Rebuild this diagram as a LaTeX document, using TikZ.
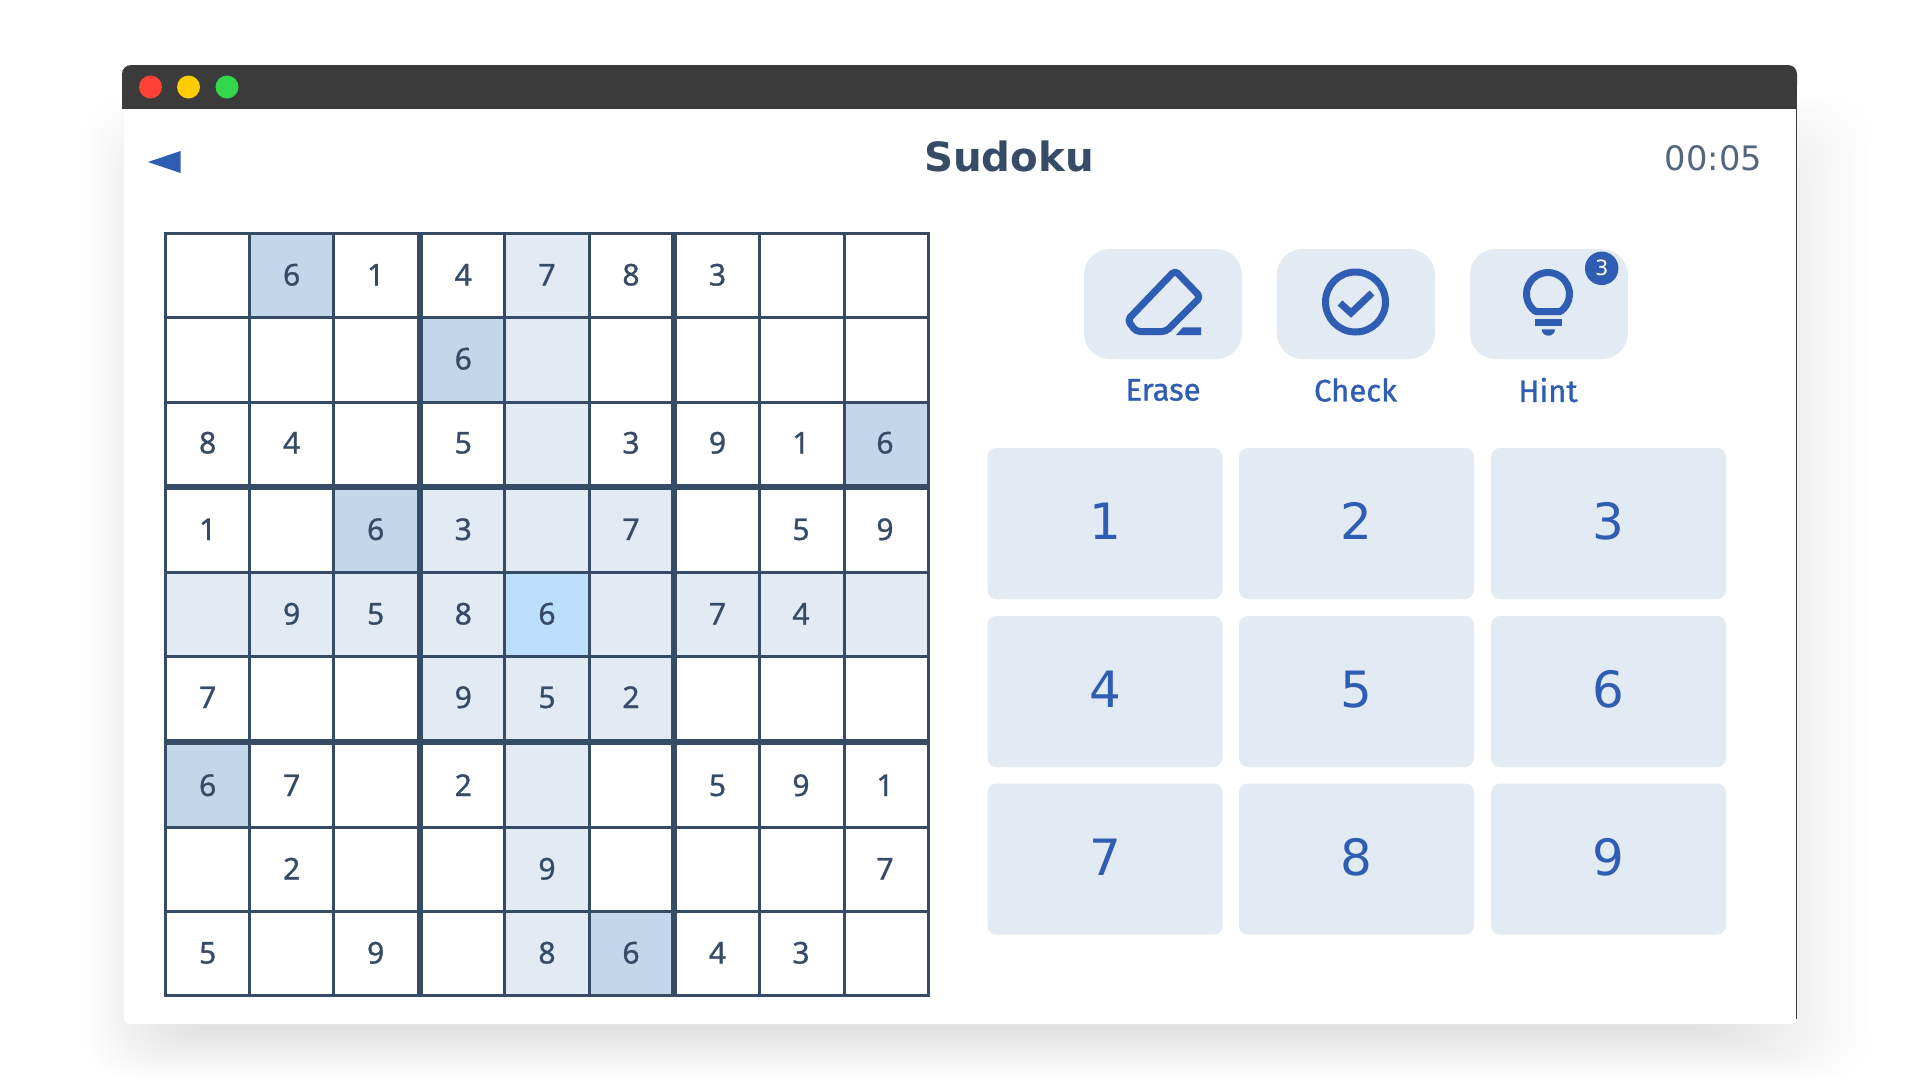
\documentclass[tikz,border=0pt]{standalone}
\usepackage{fontspec}
\usepackage{xcolor}
\usetikzlibrary{positioning,calc}
\newfontfamily\titlefont{DejaVu Sans}
\newfontfamily\digitfont[FakeBold=1]{Noto Sans}
\newfontfamily\labelfont[FakeBold=1]{Fira Sans}
\definecolor{BarDark}{HTML}{3B3B3B}
\definecolor{GridInk}{HTML}{364B66}
\definecolor{AppBlue}{HTML}{2F5DB3}
\definecolor{PaleCell}{HTML}{E2EAF3}
\definecolor{SameCell}{HTML}{C2D7EA}
\definecolor{PickCell}{HTML}{BBDEFB}
\definecolor{CloseRed}{HTML}{FF4136}
\definecolor{MinYellow}{HTML}{FFCC00}
\definecolor{ZoomGreen}{HTML}{32D74B}
\begin{document}
\begin{tikzpicture}[
  x=1pt, y=-1pt,
  thinrule/.style={line width=3pt, GridInk, line cap=rect},
  thickrule/.style={line width=6pt, GridInk},
  digit/.style={inner sep=0pt, text height=22pt, text depth=0pt, text=GridInk, font=\digitfont\fontsize{30}{30}\selectfont},
  padkey/.style={rectangle, rounded corners=9pt, fill=PaleCell, minimum width=235pt, minimum height=151pt, inner sep=0pt,
                 text height=36.5pt, text depth=4pt, text=AppBlue, font=\titlefont\fontsize{50}{50}\selectfont},
  toolbtn/.style={rectangle, rounded corners=26pt, fill=PaleCell, minimum width=158pt, minimum height=110pt, inner sep=0pt},
  toollabel/.style={inner sep=0pt, text=AppBlue, font=\labelfont\fontsize{31}{31}\selectfont},
  icon/.style={line width=7pt, AppBlue, line join=round},
  light/.style={circle, minimum size=23pt, inner sep=0pt}
]
\useasboundingbox (0,0) rectangle (1920,1080);
\fill[white] (0,0) rectangle (1920,1080);
% soft shadow
\foreach \s in {0,...,29} {
  \pgfmathsetmacro{\t}{\s/29}
  \fill[black, opacity=0.0035, rounded corners=45pt] (85+85*\t,95+105*\t) rectangle (1870-145*\t,1078-48*\t);
}
% window
\fill[white, rounded corners=6pt] (124,100) rectangle (1797,1024);
\draw[line width=1.5pt, BarDark] (1796.5,109) -- (1796.5,1019);
\fill[BarDark, rounded corners=9pt] (122,65) rectangle (1797,95);
\fill[BarDark] (122,80) rectangle (1797,109);
\node[light, fill=CloseRed] (closedot) at (150.5,87) {};
\node[light, fill=MinYellow] (mindot) at (188.5,87) {};
\node[light, fill=ZoomGreen] (zoomdot) at (227,87) {};
% header
\fill[AppBlue] (148,162) -- (180.5,151) -- (180.5,173) -- cycle;
\node[inner sep=0pt, text=GridInk, font=\titlefont\bfseries\fontsize{40.3}{40}\selectfont] (title) at (1009,156.2) {Sudoku};
\node[inner sep=0pt, text=GridInk!85!white, font=\titlefont\fontsize{33.7}{33}\selectfont] (timer) at (1713.5,158) {00:05};
% grid coordinates
\foreach \xp [count=\i] in {165.5,249.7,333.5,419.5,504.5,589,673.5,759,844,928}
  \coordinate (x\i) at (\xp,0);
\foreach \yp [count=\j] in {233,317,402,486.5,572,656,741.5,827,911,995}
  \coordinate (y\j) at (0,\yp);
\foreach \xp [count=\i] in {207.7,291.7,375.7,463.3,547,631,717.5,801,885}
  \coordinate (cx\i) at (\xp,0);
\foreach \yp [count=\j] in {274.5,358.5,442.5,529,613.5,697,785,868.5,952.5}
  \coordinate (cy\j) at (0,\yp);
% shaded cells
\foreach \r/\c in {1/5,2/5,3/5,4/4,4/5,4/6,5/1,5/2,5/3,5/4,5/6,5/7,5/8,5/9,6/4,6/5,6/6,7/5,8/5,9/5} {
  \pgfmathtruncatemacro{\rr}{\r+1}\pgfmathtruncatemacro{\cc}{\c+1}
  \fill[PaleCell] (x\c |- y\r) rectangle (x\cc |- y\rr);
}
\foreach \r/\c in {1/2,2/4,3/9,4/3,7/1,9/6} {
  \pgfmathtruncatemacro{\rr}{\r+1}\pgfmathtruncatemacro{\cc}{\c+1}
  \fill[SameCell] (x\c |- y\r) rectangle (x\cc |- y\rr);
}
\fill[PickCell] (x5 |- y5) rectangle (x6 |- y6);
% grid rules
\foreach \i in {1,2,3,5,6,8,9,10}
  \draw[thinrule] (x\i |- y1) -- (x\i |- y10);
\foreach \j in {1,2,3,5,6,8,9,10}
  \draw[thinrule] (x1 |- y\j) -- (x10 |- y\j);
\foreach \i in {4,7}
  \draw[thickrule] (x\i |- y1) -- (x\i |- y10);
\foreach \j in {4,7}
  \draw[thickrule] (x1 |- y\j) -- (x10 |- y\j);
% givens
\foreach \r/\c/\v in {1/2/6,1/3/1,1/4/4,1/5/7,1/6/8,1/7/3,
                      2/4/6,
                      3/1/8,3/2/4,3/4/5,3/6/3,3/7/9,3/8/1,3/9/6,
                      4/1/1,4/3/6,4/4/3,4/6/7,4/8/5,4/9/9,
                      5/2/9,5/3/5,5/4/8,5/5/6,5/7/7,5/8/4,
                      6/1/7,6/4/9,6/5/5,6/6/2,
                      7/1/6,7/2/7,7/4/2,7/7/5,7/8/9,7/9/1,
                      8/2/2,8/5/9,8/9/7,
                      9/1/5,9/3/9,9/5/8,9/6/6,9/7/4,9/8/3} {
  \node[digit] (d\r\c) at (cx\c |- cy\r) {\v};
}
% tool buttons
\node[toolbtn] (erase) at (1163,304) {};
\node[toolbtn, right=34.5pt of erase] (check) {};
\node[toolbtn, right=34.5pt of check] (hint) {};
\node[toollabel] (eraselbl) at (1163,390) {Erase};
\node[toollabel] (checklbl) at (1355.5,390) {Check};
\node[toollabel] (hintlbl) at (1548,390) {Hint};
% eraser icon
\draw[icon, rounded corners=4pt] (1175,270.5) -- (1200.5,297) -- (1166,331.5) -- (1136,331.5) -- (1127.5,320) -- cycle;
\fill[AppBlue] (1183,327.3) -- (1201,327.3) -- (1201,335) -- (1176,335) -- cycle;
% check icon
\draw[icon] (1355.5,302) circle[radius=30];
\draw[icon, line join=miter] (1340,303) -- (1351,313) -- (1372,293);
% bulb icon
\draw[icon] (1535.5,311.5) arc[start angle=125.5, end angle=414.5, radius=21.5] -- cycle;
\fill[AppBlue] (1535,319) rectangle (1561.7,326);
\fill[AppBlue] (1541.7,329.3) -- (1555,329.3) arc[start angle=0, end angle=180, x radius=6.65, y radius=6.4] -- cycle;
% hint count
\node[circle, fill=AppBlue, minimum size=33.5pt, inner sep=0pt, text=white, font=\titlefont\fontsize{21}{21}\selectfont] (badge) at (1601.7,268.3) {3};
% number pad
\node[padkey] (k1) at (1105,523.5) {1};
\node[padkey] (k2) at (1356.5,523.5) {2};
\node[padkey] (k3) at (1608.5,523.5) {3};
\node[padkey] (k4) at (1105,691.5) {4};
\node[padkey] (k5) at (1356.5,691.5) {5};
\node[padkey] (k6) at (1608.5,691.5) {6};
\node[padkey] (k7) at (1105,859) {7};
\node[padkey] (k8) at (1356.5,859) {8};
\node[padkey] (k9) at (1608.5,859) {9};
\end{tikzpicture}
\end{document}
